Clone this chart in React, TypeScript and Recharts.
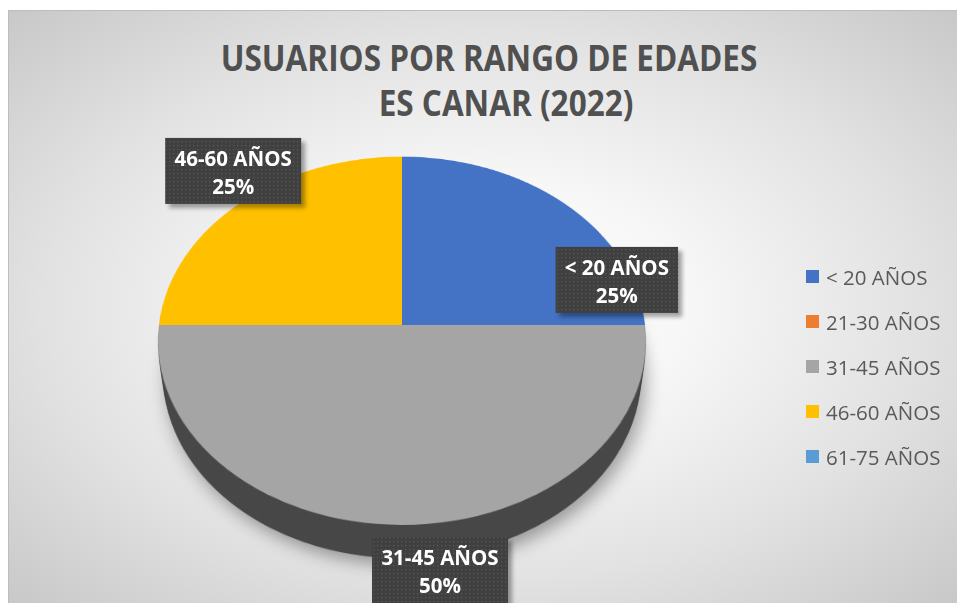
import React from "react";
import { PieChart, Pie, Cell, Legend } from "recharts";

const CATEGORIES = ["< 20 AÑOS", "21-30 AÑOS", "31-45 AÑOS", "46-60 AÑOS", "61-75 AÑOS"];
const SHARES = [25, 0, 50, 25, 0];
const TOP_COLORS = ["#4472C4", "#ED7D31", "#A5A5A5", "#FFC000", "#5B9BD5"];
const SIDE_COLORS = ["#2d4c86", "#a2541f", "#474747", "#a88000", "#3b6c98"];
const TITLE_LINES = ["USUARIOS POR RANGO DE EDADES", "ES CANAR (2022)"];

const data = CATEGORIES.map((name, i) => ({ name, value: SHARES[i] }));

// geometry of the tilted pie
const CX = 402;
const CY = 325;
const R = 243;
const BOX = 600;
const TILT = 41.2;
const PERSP = 1866;
const DEPTH = 54;
const RY_BACK = 167;
const RY_FRONT = 198;

// the callouts were dragged by hand in the original, so nudge them
const LABEL_NUDGE: [number, number][] = [
  [43, 73],
  [0, 0],
  [38, 47],
  [3, -36],
  [0, 0],
];

function PieDisk({ colors, z, shadow }: { colors: string[]; z: number; shadow?: boolean }) {
  return (
    <div
      style={{
        position: "absolute",
        left: CX - BOX / 2,
        top: CY - BOX / 2,
        width: BOX,
        height: BOX,
        transformOrigin: `${BOX / 2}px ${BOX / 2}px`,
        transform: `perspective(${PERSP}px) rotateX(${TILT}deg) translateZ(${-z}px)`,
        filter: shadow ? "drop-shadow(4px 8px 9px rgba(0,0,0,0.35))" : undefined,
      }}
    >
      <PieChart width={BOX} height={BOX} margin={{ top: 0, right: 0, bottom: 0, left: 0 }}>
        <Pie
          data={data}
          dataKey="value"
          nameKey="name"
          cx={BOX / 2}
          cy={BOX / 2}
          outerRadius={R}
          startAngle={90}
          endAngle={-270}
          stroke="none"
          isAnimationActive={false}
        >
          {data.map((d, i) => (
            <Cell key={d.name} fill={colors[i]} />
          ))}
        </Pie>
      </PieChart>
    </div>
  );
}

// eslint-disable-next-line @typescript-eslint/no-explicit-any
function Callout(props: any) {
  const { cx, cy, midAngle, percent, name, index, value } = props;
  if (!value) return null;
  const rad = (midAngle * Math.PI) / 180;
  const s = Math.sin(rad);
  const ry = s > 0 ? RY_BACK : RY_FRONT;
  const [dx, dy] = LABEL_NUDGE[index] || [0, 0];
  const mx = cx + R * Math.cos(rad) + dx;
  const my = cy - ry * s + dy;
  const w = name.length * 13.5 + 1;
  const h = 66;
  const x = mx - w / 2;
  const y = my - h / 2;
  const font = { fontFamily: "'Open Sans', sans-serif", fontWeight: 700, fontSize: 20.5 };
  return (
    <g>
      <defs>
        <pattern id={`dots-${index}`} width="4" height="4" patternUnits="userSpaceOnUse">
          <rect width="4" height="4" fill="#404040" />
          <rect x="1" y="1" width="1.3" height="1.3" fill="#575757" />
        </pattern>
        <filter id={`blur-${index}`} x="-20%" y="-20%" width="140%" height="140%">
          <feGaussianBlur stdDeviation="2" />
        </filter>
      </defs>
      <rect x={x + 4} y={y + 4} width={w} height={h} fill="rgba(0,0,0,0.35)" filter={`url(#blur-${index})`} />
      <rect x={x} y={y} width={w} height={h} fill={`url(#dots-${index})`} />
      <text x={mx} y={y + 28} textAnchor="middle" fill="#ffffff" style={font}>
        {name}
      </text>
      <text x={mx} y={y + 56} textAnchor="middle" fill="#ffffff" style={font}>
        {`${Math.round(percent * 100)}%`}
      </text>
    </g>
  );
}

function LegendBox() {
  return (
    <div style={{ fontFamily: "'Open Sans', sans-serif", fontSize: 20.5, color: "#595959" }}>
      {CATEGORIES.map((c, i) => (
        <div key={c} style={{ display: "flex", alignItems: "center", height: 45 }}>
          <span
            style={{
              display: "inline-block",
              width: 13,
              height: 13,
              background: TOP_COLORS[i],
              marginRight: 7,
            }}
          />
          <span>{c}</span>
        </div>
      ))}
    </div>
  );
}

const LAYERS = Array.from({ length: 14 }, (_, i) => DEPTH - i * (DEPTH / 14));

export default function App() {
  return (
    <div
      style={{
        position: "absolute",
        left: 0,
        top: 0,
        width: 957,
        height: 603,
        overflow: "hidden",
        background: "#ffffff",
      }}
    >
      <div
        style={{
          position: "absolute",
          left: 8,
          top: 10,
          width: 949,
          height: 593,
          borderTop: "1px solid #bdbdbd",
          borderLeft: "1px solid #bdbdbd",
          background:
            "radial-gradient(ellipse farthest-corner at 50% 50%, #ffffff 0%, #f7f7f7 30%, #e2e2e2 65%, #c8c8c8 100%)",
        }}
      />

      {TITLE_LINES.map((t, i) => (
        <div
          key={t}
          style={{
            position: "absolute",
            left: (i === 0 ? 489 : 506) - 400,
            top: i === 0 ? 36 : 81,
            width: 800,
            textAlign: "center",
            fontFamily: "'Open Sans', sans-serif",
            fontWeight: 700,
            fontSize: 31.5,
            lineHeight: "44px",
            color: "#505050",
            whiteSpace: "nowrap",
            transform: "scaleY(1.12)",
          }}
        >
          {t}
        </div>
      ))}

      {LAYERS.map((z, i) => (
        <PieDisk key={z} colors={SIDE_COLORS} z={z} shadow={i === 0} />
      ))}
      <PieDisk colors={TOP_COLORS} z={0} />

      <div style={{ position: "absolute", left: 0, top: 0 }}>
        <PieChart width={957} height={603} margin={{ top: 0, right: 0, bottom: 0, left: 0 }}>
          <Pie
            data={data}
            dataKey="value"
            nameKey="name"
            cx={CX}
            cy={CY}
            outerRadius={R}
            startAngle={90}
            endAngle={-270}
            stroke="none"
            fill="transparent"
            labelLine={false}
            label={Callout}
            isAnimationActive={false}
          >
            {data.map((d, i) => (
              <Cell key={d.name} fill={TOP_COLORS[i]} fillOpacity={0} />
            ))}
          </Pie>
          <Legend
            layout="vertical"
            align="right"
            verticalAlign="middle"
            content={() => <LegendBox />}
            wrapperStyle={{ left: 806, top: 254, width: 150 }}
          />
        </PieChart>
      </div>
    </div>
  );
}
